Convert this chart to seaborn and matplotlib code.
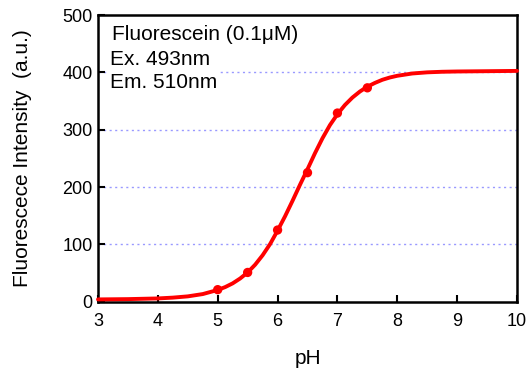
import matplotlib
matplotlib.use("Agg")
import matplotlib.pyplot as plt
import seaborn as sns
import pandas as pd

# fitted curve
curve_ph = [3.0, 3.5, 4.0, 4.25, 4.5, 4.75, 5.0, 5.125, 5.25, 5.375, 5.5, 5.625,
            5.75, 5.875, 6.0, 6.125, 6.25, 6.375, 6.5, 6.625, 6.75, 6.875, 7.0,
            7.125, 7.25, 7.375, 7.5, 7.625, 7.75, 7.875, 8.0, 8.25, 8.5, 8.75,
            9.0, 9.5, 10.0]
curve_int = [4, 4.5, 5.7, 7.1, 9.3, 13.3, 20.5, 25.5, 32, 40.5, 51, 64.5,
             81, 100.5, 124, 149, 176, 204, 231, 259, 285, 308, 327,
             343, 356, 366.5, 375, 381.5, 387, 391, 394, 398, 400, 401,
             401.5, 402, 402.5]

# measured points
pt_ph = [5.0, 5.5, 6.0, 6.5, 7.0, 7.5]
pt_int = [21, 51, 125, 225, 329, 373]

x_ticks = [3, 4, 5, 6, 7, 8, 9, 10]
y_ticks = [0, 100, 200, 300, 400, 500]
grid_levels = [100, 200, 300, 400]
info_lines = ["Fluorescein (0.1\u03bcM)", "Ex. 493nm", "Em. 510nm"]

sns.set_theme(style="white")
plt.rcParams['font.family'] = ['Liberation Sans', 'DejaVu Sans']
plt.rcParams['text.color'] = 'black'
plt.rcParams['axes.labelcolor'] = 'black'

fig = plt.figure(figsize=(5.27, 3.76), dpi=100)
ax = fig.add_axes([98/527, 1 - 301.7/376, (517-98)/527, (301.7-15)/376])

for g in grid_levels:
    ax.axhline(g, color=(0.6, 0.6, 1.0), lw=1.0, ls=(0, (1.5, 2.5)), zorder=0)

curve_df = pd.DataFrame({"pH": curve_ph, "I": curve_int})
pts_df = pd.DataFrame({"pH": pt_ph, "I": pt_int})
sns.lineplot(data=curve_df, x="pH", y="I", ax=ax, color="#ff0000", lw=2.8,
             zorder=3, clip_on=False)
sns.scatterplot(data=pts_df, x="pH", y="I", ax=ax, color="#ff0000", s=45,
                edgecolor="none", zorder=4)

ax.set_xlim(3, 10)
ax.set_ylim(0, 500)
ax.set_xticks(x_ticks)
ax.set_yticks(y_ticks)
ax.tick_params(direction="in", length=5, width=1.5, labelsize=13, colors="black",
               bottom=True, left=True, top=False, right=False)
ax.tick_params(axis="x", pad=8)
ax.tick_params(axis="y", pad=4)
for s in ax.spines.values():
    s.set_color("black")
    s.set_linewidth(1.8)
ax.set_xlabel("pH", fontsize=15, labelpad=14)
ax.set_ylabel("Fluorescece Intensity  (a.u.)", fontsize=15, labelpad=22)

line_pos = [(0.034, 0.913), (0.029, 0.826), (0.029, 0.746)]
for txt, (tx, ty) in zip(info_lines, line_pos):
    ax.text(tx, ty, txt, transform=ax.transAxes, ha="left", va="baseline",
            fontsize=15, zorder=5, color="black",
            bbox=dict(facecolor="white", edgecolor="none", pad=1.5))

fig.savefig("out.png", dpi=100)
